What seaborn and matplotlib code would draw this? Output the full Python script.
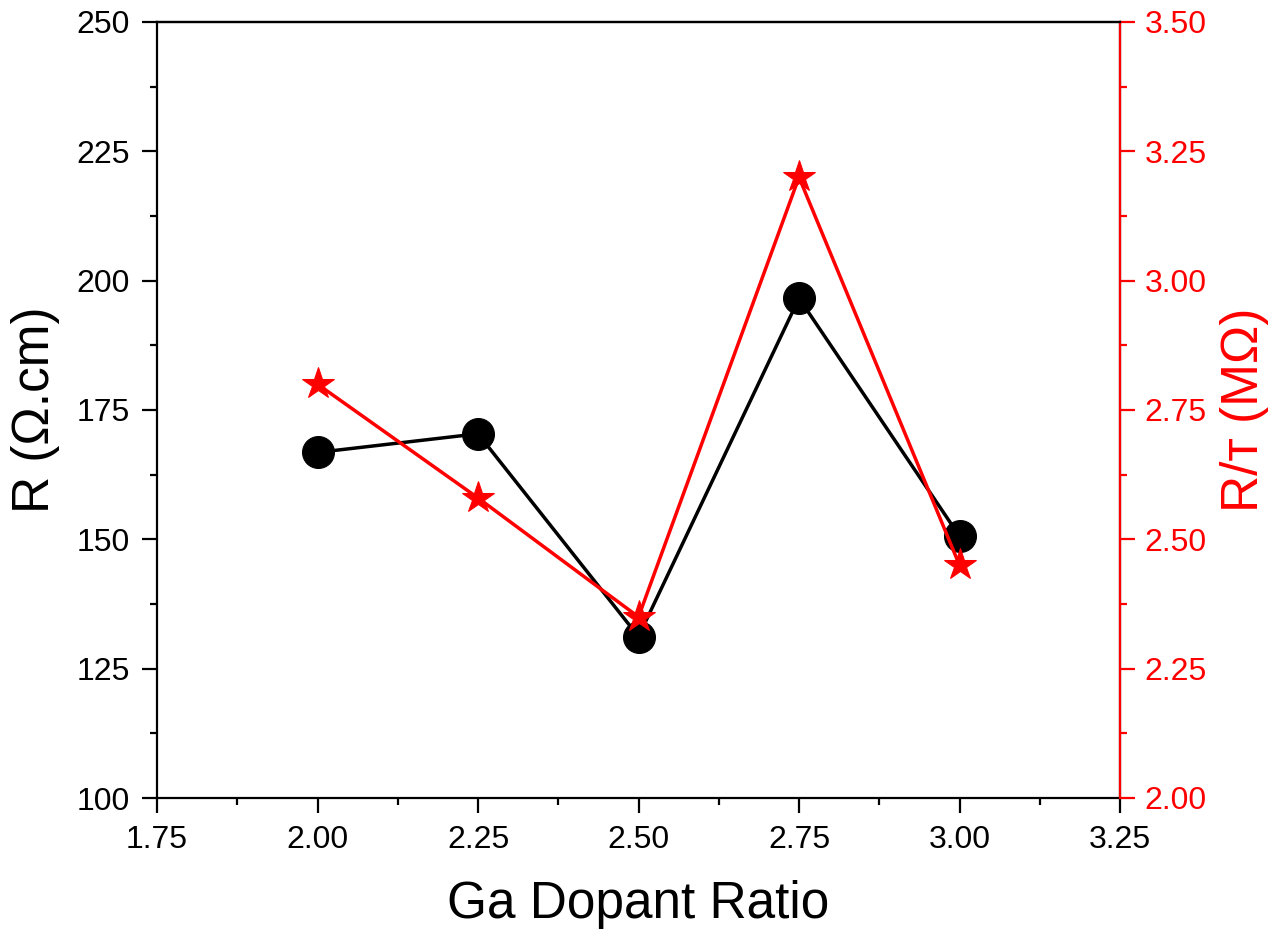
import matplotlib
matplotlib.use("Agg")
import matplotlib.pyplot as plt
import seaborn as sns
from matplotlib.ticker import MultipleLocator, FormatStrFormatter

ga_ratio = [2.00, 2.25, 2.50, 2.75, 3.00]
resistivity = [166.8, 170.4, 131.2, 196.6, 150.6]
resistance = [2.80, 2.58, 2.35, 3.20, 2.45]

sns.set_style("ticks")
plt.rcParams["font.family"] = ["Liberation Sans", "DejaVu Sans"]
plt.rcParams["text.color"] = "black"
plt.rcParams["axes.labelcolor"] = "black"
plt.rcParams["xtick.color"] = "black"
plt.rcParams["ytick.color"] = "black"

fig = plt.figure(figsize=(12.85, 9.36), dpi=100)
ax = fig.add_axes([157 / 1285, 1 - 798 / 936, (1120 - 157) / 1285, (798 - 22) / 936])

sns.lineplot(x=ga_ratio, y=resistivity, ax=ax, color="black", linewidth=2.5,
             marker="o", markersize=23, markeredgecolor="black")
ax.set_xlim(1.75, 3.25)
ax.set_ylim(100, 250)
ax.xaxis.set_major_locator(MultipleLocator(0.25))
ax.xaxis.set_minor_locator(MultipleLocator(0.125))
ax.yaxis.set_major_locator(MultipleLocator(25))
ax.yaxis.set_minor_locator(MultipleLocator(12.5))
ax.xaxis.set_major_formatter(FormatStrFormatter("%.2f"))
ax.tick_params(which="major", length=10.5, width=1.6, labelsize=23, direction="out",
               pad=9, colors="black")
ax.tick_params(which="minor", length=5, width=1.6, direction="out", colors="black")
ax.set_xlabel("Ga Dopant Ratio", fontsize=37, labelpad=18)
ax.set_ylabel("R (Ω.cm)", fontsize=37, labelpad=12)
for s in ax.spines.values():
    s.set_linewidth(1.6)
    s.set_color("black")

ax2 = ax.twinx()
sns.lineplot(x=ga_ratio, y=resistance, ax=ax2, color="red", linewidth=2.5,
             marker="*", markersize=24, markeredgecolor="red")
ax2.set_ylim(2.0, 3.5)
ax2.yaxis.set_major_locator(MultipleLocator(0.25))
ax2.yaxis.set_minor_locator(MultipleLocator(0.125))
ax2.yaxis.set_major_formatter(FormatStrFormatter("%.2f"))
ax2.tick_params(axis="y", which="major", length=10.5, width=1.6, labelsize=23,
                colors="red", direction="out", pad=7)
ax2.tick_params(axis="y", which="minor", length=5, width=1.6, colors="red", direction="out")
ax2.set_ylabel("R/ᴛ (MΩ)", fontsize=37, color="red", labelpad=10)
ax2.spines["right"].set_color("red")
ax2.spines["right"].set_linewidth(1.6)
ax2.spines["top"].set_linewidth(1.6)
ax2.spines["top"].set_color("black")
ax2.spines["left"].set_visible(False)
ax2.spines["bottom"].set_visible(False)

fig.savefig("out.png", dpi=100)
